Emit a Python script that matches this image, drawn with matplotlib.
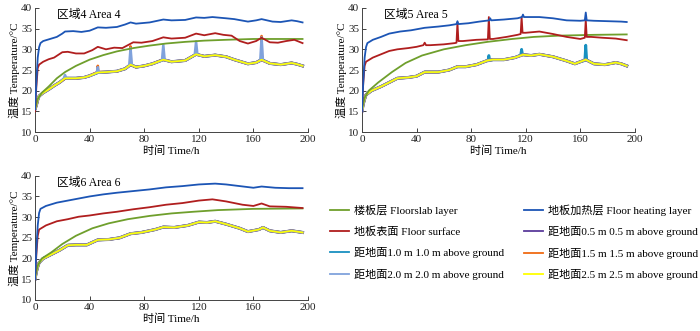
"""Indoor temperature profiles for three floor-heating areas (Area 4/5/6)."""

import matplotlib

matplotlib.use("Agg")

import matplotlib.pyplot as plt
import numpy as np

plt.rcParams["font.family"] = ["Liberation Serif", "Noto Sans CJK SC"]
plt.rcParams["axes.unicode_minus"] = False

# ---- data: (time h, temperature C) ----
A4_SLAB = [(0, 15.5), (2, 18), (5, 19.5), (10, 21), (16, 23), (22, 24.5), (30, 26),
           (40, 27.5), (50, 28.6), (60, 29.5), (72, 30.3), (84, 30.9), (96, 31.4),
           (110, 31.8), (124, 32.1), (140, 32.3), (160, 32.5), (196, 32.5)]
A4_HEAT = [(0, 15.5), (1, 22), (2, 28), (3, 30.5), (4, 31.5), (6, 32), (8, 32.2),
           (12, 32.6), (16, 33), (20, 33.8), (22, 34.3), (28, 34.4), (34, 34.2),
           (40, 34.5), (46, 35.3), (52, 35.2), (60, 35.4), (66, 36), (70, 36.5),
           (74, 36.2), (84, 36.5), (94, 37.2), (100, 37), (110, 37.1), (118, 37.7),
           (124, 37.6), (130, 37.8), (140, 37.5), (146, 37.3), (156, 36.7), (162, 37),
           (166, 37.3), (174, 36.7), (180, 36.6), (188, 37), (192, 36.8), (196, 36.5)]
A4_SURF = [(0, 15), (1, 21), (2, 25.5), (3, 26.3), (6, 27), (10, 27.6), (14, 28),
           (20, 29.3), (24, 29.4), (30, 29), (36, 29), (42, 29.8), (46, 30.6), (52, 30),
           (58, 30.4), (64, 30.3), (68, 31), (72, 31.7), (78, 31.6), (86, 32), (94, 32.9),
           (100, 32.6), (110, 32.8), (118, 33.8), (124, 33.4), (132, 33.9), (138, 33.5),
           (144, 33.3), (150, 32), (156, 31.4), (162, 32), (166, 32.8), (172, 31.7),
           (178, 31.6), (184, 32), (190, 32.3), (196, 31.5)]
A4_AIR = [(0, 15.5), (1, 16.5), (2, 17.8), (3, 18.7), (6, 19.5), (10, 20.3), (14, 21.2),
          (18, 22), (22, 23), (26, 23), (30, 23), (36, 23.2), (40, 23.6), (46, 24.4),
          (52, 24.5), (60, 24.7), (66, 25.3), (70, 26.3), (74, 25.7), (80, 26), (86, 26.5),
          (94, 27.5), (100, 27), (110, 27.3), (118, 28.8), (124, 28.3), (132, 28.6),
          (140, 28.2), (146, 27.5), (156, 26.5), (162, 26.8), (166, 27.5), (172, 26.6),
          (180, 26.3), (188, 26.7), (192, 26.4), (196, 26)]
A4_SPIKE_20 = [(21, 22.9), (22, 23.8), (23, 23.0), (45.2, 24.3), (46, 25.7), (46.8, 24.4),
               (69, 26.0), (70, 30.3), (71, 26.2), (93, 27.3), (94, 31.1), (95, 27.4),
               (117, 28.6), (118, 31.9), (119, 28.7), (165, 27.2), (166, 32.9),
               (167, 27.3)]
A4_SPIKE_15 = [(45.8, 24.5), (46, 26.0), (46.2, 24.5), (69.8, 26.2), (70, 30.7), (70.2, 26.3),
               (165.8, 27.4), (166, 33.2), (166.2, 27.4)]

A5_SLAB = [(0, 15.5), (2, 18.3), (5, 20), (12, 22), (22, 24.5), (32, 26.7), (44, 28.5),
           (60, 30), (76, 31), (92, 31.8), (110, 32.5), (126, 33), (144, 33.3),
           (170, 33.5), (194, 33.6)]
A5_HEAT = [(0, 15), (1, 22), (2, 28), (3, 30.5), (4, 31.5), (8, 32.3), (14, 33), (20, 33.8),
           (28, 34.3), (36, 34.6), (46, 35.2), (56, 35.5), (64, 35.8), (69.3, 36.1),
           (70, 36.8), (70.7, 36.1), (78, 36.3), (86, 36.7), (93.3, 37), (94, 37.5),
           (94.7, 37), (104, 37.2), (114, 37.5), (117.3, 37.8), (118, 38.4), (118.7, 37.8),
           (130, 37.8), (140, 37.5), (150, 37), (160, 36.9), (163.3, 37), (164, 38.9),
           (164.7, 37), (170, 36.9), (180, 36.8), (190, 36.7), (194, 36.6)]
A5_SURF = [(0, 15), (1, 22), (2, 26), (3, 27), (8, 28), (14, 28.8), (20, 29.6), (26, 30),
           (34, 30.3), (40, 30.6), (45, 31), (46, 31.6), (47, 31), (50, 31), (60, 31.2),
           (68, 31.5), (69.3, 31.6), (70, 36.5), (70.7, 32), (74, 32), (84, 32.3),
           (92.3, 32.4), (93, 37.8), (93.7, 32.5), (96, 32.5), (106, 33), (114, 33.5),
           (116.3, 33.7), (117, 37.8), (117.7, 34), (120, 34), (130, 34.3), (140, 33.7),
           (150, 33), (160, 32.5), (163.3, 32.8), (164, 37.2), (164.7, 33), (168, 33),
           (176, 32.8), (186, 32.6), (194, 32.2)]
A5_AIR = [(0, 15), (1, 16.8), (2, 18), (3, 19), (7, 20), (14, 21), (20, 22), (26, 23),
          (34, 23.2), (40, 23.5), (46, 24.5), (56, 24.5), (64, 25), (70, 25.8), (76, 25.8),
          (84, 26.3), (92, 27.3), (96, 27.5), (104, 27.5), (112, 28), (118, 28.7),
          (124, 28.5), (130, 28.8), (140, 28.2), (150, 27.2), (156, 26.5), (160, 27),
          (164, 27.5), (170, 26.5), (178, 26.3), (186, 26.8), (190, 26.5), (194, 26)]
A5_SPIKE_10 = [(92.3, 27.2), (93, 28.5), (93.7, 27.3), (116.3, 28.6), (117, 30.0),
               (117.7, 28.7), (163.3, 27.3), (164, 31.0), (164.7, 27.4)]

A6_SLAB = [(0, 15.5), (2, 18.3), (5, 20), (12, 21.5), (20, 23.5), (30, 25.5), (42, 27.3),
           (54, 28.5), (68, 29.5), (84, 30.3), (100, 30.9), (116, 31.3), (134, 31.7),
           (160, 32), (196, 32.1)]
A6_HEAT = [(0, 15), (1, 22), (2, 28), (3, 31), (4, 32), (8, 32.7), (16, 33.5), (24, 34),
           (32, 34.5), (40, 35), (50, 35.5), (60, 35.9), (72, 36.3), (84, 36.7), (96, 37.2),
           (108, 37.5), (120, 37.9), (132, 38.1), (140, 37.9), (150, 37.5), (160, 37.1),
           (166, 37.4), (176, 37.1), (186, 37), (196, 37)]
A6_SURF = [(0, 15), (1, 21), (2, 25.5), (3, 27), (8, 28), (16, 29), (24, 29.5), (32, 30.1),
           (40, 30.4), (50, 30.9), (60, 31.3), (72, 31.9), (84, 32.4), (96, 33), (108, 33.4),
           (120, 34), (130, 34.3), (140, 33.8), (152, 33), (160, 32.7), (166, 33.3),
           (172, 32.6), (184, 32.5), (196, 32.2)]
A6_AIR = [(0, 15), (1, 16.8), (2, 18), (3, 19), (6, 20), (12, 21), (18, 22), (24, 23.2),
          (30, 23.3), (38, 23.3), (46, 24.5), (54, 24.6), (62, 25), (70, 26), (78, 26.3),
          (88, 27), (94, 27.6), (102, 27.5), (112, 28), (120, 28.8), (126, 28.7),
          (132, 29), (140, 28.3), (150, 27.3), (156, 26.5), (164, 27), (167, 27.5),
          (172, 26.7), (180, 26.3), (188, 26.7), (196, 26.3)]

AREAS = [
    ("区域4 Area 4", A4_SLAB, A4_HEAT, A4_SURF, A4_AIR, {"2.0": A4_SPIKE_20, "1.5": A4_SPIKE_15}),
    ("区域5 Area 5", A5_SLAB, A5_HEAT, A5_SURF, A5_AIR, {"1.0": A5_SPIKE_10}),
    ("区域6 Area 6", A6_SLAB, A6_HEAT, A6_SURF, A6_AIR, {}),
]

C_SLAB = "#6f9f2c"
C_HEAT = "#1c55b5"
C_SURF = "#b01e1e"
AIR_LAYERS = [  # height, colour, linewidth, drawing order
    ("0.5", "#5b3b9b", 2.2, 2.0),
    ("1.0", "#1990c0", 2.0, 2.1),
    ("1.5", "#f06a12", 1.9, 2.2),
    ("2.0", "#80a2dc", 1.8, 2.3),
    ("2.5", "#ffff00", 1.2, 2.4),
]


def xy(points):
    arr = np.array(points, dtype=float)
    return arr[:, 0], arr[:, 1]


def with_spikes(base, spikes):
    """Replace base points inside each spike window by the spike points."""
    if not spikes:
        return xy(base)
    st, sv = xy(spikes)
    bt, bv = xy(base)
    keep = np.ones(len(bt), dtype=bool)
    for i in range(0, len(st), 3):
        keep &= ~((bt >= st[i]) & (bt <= st[i + 2]))
    t = np.concatenate([bt[keep], st])
    v = np.concatenate([bv[keep], sv])
    order = np.argsort(t, kind="stable")
    return t[order], v[order]


def draw_area(ax, title, slab, heat, surf, air, spikes):
    handles = {}
    # light-blue spikes sit over the orange ones, orange only shows at the tips
    for h, color, lw, z in AIR_LAYERS:
        t, v = with_spikes(air, spikes.get(h))
        (handles[h],) = ax.plot(t, v, color=color, lw=lw, zorder=z,
                                label=f"距地面{h} m {h} m above ground")
    t, v = xy(slab)
    (handles["slab"],) = ax.plot(t, v, color=C_SLAB, lw=1.3, zorder=2.5,
                                 label="楼板层 Floorslab layer")
    t, v = xy(surf)
    (handles["surf"],) = ax.plot(t, v, color=C_SURF, lw=1.3, zorder=2.6,
                                 label="地板表面 Floor surface")
    t, v = xy(heat)
    (handles["heat"],) = ax.plot(t, v, color=C_HEAT, lw=1.3, zorder=2.7,
                                 label="地板加热层 Floor heating layer")

    ax.set_xlim(0, 200)
    ax.set_ylim(10, 40)
    ax.set_xticks(np.arange(0, 201, 40))
    ax.set_yticks(np.arange(10, 41, 5))
    ax.tick_params(direction="in", length=3, width=0.6, labelsize=8, pad=2, colors="#222222")
    for side in ("top", "right"):
        ax.spines[side].set_visible(False)
    for side in ("left", "bottom"):
        ax.spines[side].set_color("#444444")
        ax.spines[side].set_linewidth(0.7)
    ax.set_xlabel("时间 Time/h", fontsize=8, labelpad=1)
    ax.set_ylabel("温度 Temperature/°C", fontsize=8, labelpad=1)
    ax.text(0.08, 0.94, title, transform=ax.transAxes, fontsize=8.5, va="center")
    return handles


def main() -> None:
    fig = plt.figure(figsize=(7.0, 3.31), dpi=100)
    boxes = [
        (0.050, 0.601, 0.390, 0.375),
        (0.517, 0.601, 0.390, 0.375),
        (0.050, 0.094, 0.390, 0.375),
    ]
    handles = None
    for box, (title, slab, heat, surf, air, spikes) in zip(boxes, AREAS):
        ax = fig.add_axes(box)
        handles = draw_area(ax, title, slab, heat, surf, air, spikes)

    order = ["slab", "surf", "1.0", "2.0", "heat", "0.5", "1.5", "2.5"]
    hs = [handles[k] for k in order]
    leg_handles = [plt.Line2D([], [], color=h.get_color(), lw=1.3) for h in hs]
    fig.legend(
        leg_handles,
        [h.get_label() for h in hs],
        loc="upper left",
        bbox_to_anchor=(0.4715, 0.383),
        ncol=2,
        frameon=False,
        fontsize=8,
        handlelength=1.75,
        handletextpad=0.45,
        labelspacing=0.95,
        columnspacing=1.7,
        borderaxespad=0,
        borderpad=0,
    )
    fig.savefig("out.png", dpi=100, facecolor="white")
    plt.close(fig)


if __name__ == "__main__":
    main()
